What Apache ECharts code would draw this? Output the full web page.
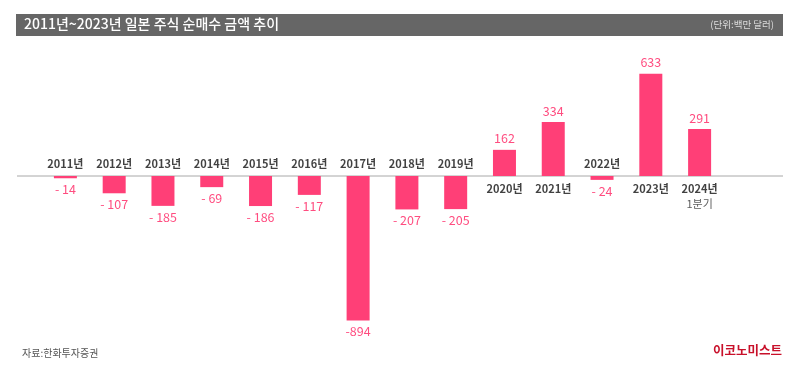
<!DOCTYPE html>
<html>
<head>
<meta charset="utf-8">
<script src="https://cdn.jsdelivr.net/npm/echarts@6/dist/echarts.min.js"></script>
<style>
  html, body { margin: 0; padding: 0; background: #fff; }
  #chart { width: 800px; height: 376px; }
</style>
</head>
<body>
<div id="chart"></div>
<script>
// 카테고리 / 값
var years = ['2011년', '2012년', '2013년', '2014년', '2015년', '2016년', '2017년',
             '2018년', '2019년', '2020년', '2021년', '2022년', '2023년', '2024년\n1분기'];
var netBuy = [-14, -107, -185, -69, -186, -117, -894, -207, -205, 162, 334, -24, 633, 291];

var FONT = 'Noto Sans CJK KR';
var PINK = '#ff3f77';

var myChart = echarts.init(document.getElementById('chart'));

myChart.setOption({
    backgroundColor: '#fff',
    animation: false,
    grid: {
        left: 41,
        right: 76,
        top: 14.5,
        bottom: 38.5
    },
    xAxis: {
        type: 'category',
        data: years,
        axisLine: { show: false },
        axisTick: { show: false },
        axisLabel: { show: false },
        splitLine: { show: false }
    },
    yAxis: {
        type: 'value',
        min: -1000,
        max: 1000,
        show: false,
        splitLine: { show: false }
    },
    series: [
        {
            // 순매수 막대
            type: 'bar',
            barWidth: 23,
            itemStyle: { color: PINK },
            data: netBuy.map(function (v) {
                return {
                    value: v,
                    label: { position: v < 0 ? 'bottom' : 'top' }
                };
            }),
            label: {
                show: true,
                distance: 5,
                color: '#ff4d80',
                fontFamily: FONT,
                fontSize: 12.5,
                formatter: function (p) {
                    // 큰 음수는 공백 없이 표기
                    if (p.value <= -500) return '-' + (-p.value);
                    return p.value < 0 ? '- ' + (-p.value) : String(p.value);
                }
            }
        },
        {
            // 연도 라벨 (막대 반대편)
            type: 'scatter',
            symbolSize: 0,
            silent: true,
            data: netBuy.map(function (v, i) {
                return {
                    value: 0,
                    label: {
                        position: v < 0 ? 'top' : 'bottom',
                        rich: { q: { fontWeight: 'normal', color: '#333', fontSize: 11, lineHeight: 15 } }
                    }
                };
            }),
            label: {
                show: true,
                distance: 5,
                color: '#111',
                fontFamily: FONT,
                fontWeight: 'bold',
                fontSize: 11,
                lineHeight: 15,
                formatter: function (p) {
                    var parts = years[p.dataIndex].split('\n');
                    return parts.length > 1 ? parts[0] + '\n{q|' + parts[1] + '}' : parts[0];
                }
            }
        }
    ]
});

// 0 기준선 + 제목 영역
var zeroY = myChart.convertToPixel({ yAxisIndex: 0 }, 0);

myChart.setOption({
    graphic: [
        {
            type: 'line',
            shape: { x1: 17, y1: zeroY, x2: 783, y2: zeroY },
            style: { stroke: '#a8a8a8', lineWidth: 1 },
            z: 1
        },
        {
            type: 'rect',
            shape: { x: 16, y: 14, width: 767, height: 22 },
            style: { fill: '#666666' }
        },
        {
            type: 'text',
            left: 24,
            top: 17,
            style: {
                text: '2011년~2023년 일본 주식 순매수 금액 추이',
                fill: '#fff',
                font: '500 14px "Noto Sans CJK KR"'
            }
        },
        {
            type: 'text',
            right: 26,
            top: 20,
            style: {
                text: '(단위:백만 달러)',
                fill: '#dddddd',
                font: '9.5px "Noto Sans CJK KR"'
            }
        },
        {
            type: 'text',
            left: 22,
            top: 348,
            style: {
                text: '자료:한화투자증권',
                fill: '#555',
                font: '10px "Noto Sans CJK KR"'
            }
        },
        {
            type: 'text',
            right: 18,
            top: 344,
            style: {
                text: '이코노미스트',
                fill: '#c8102a',
                font: 'bold 12.5px "Noto Sans CJK KR"'
            }
        }
    ]
});
</script>
</body>
</html>
